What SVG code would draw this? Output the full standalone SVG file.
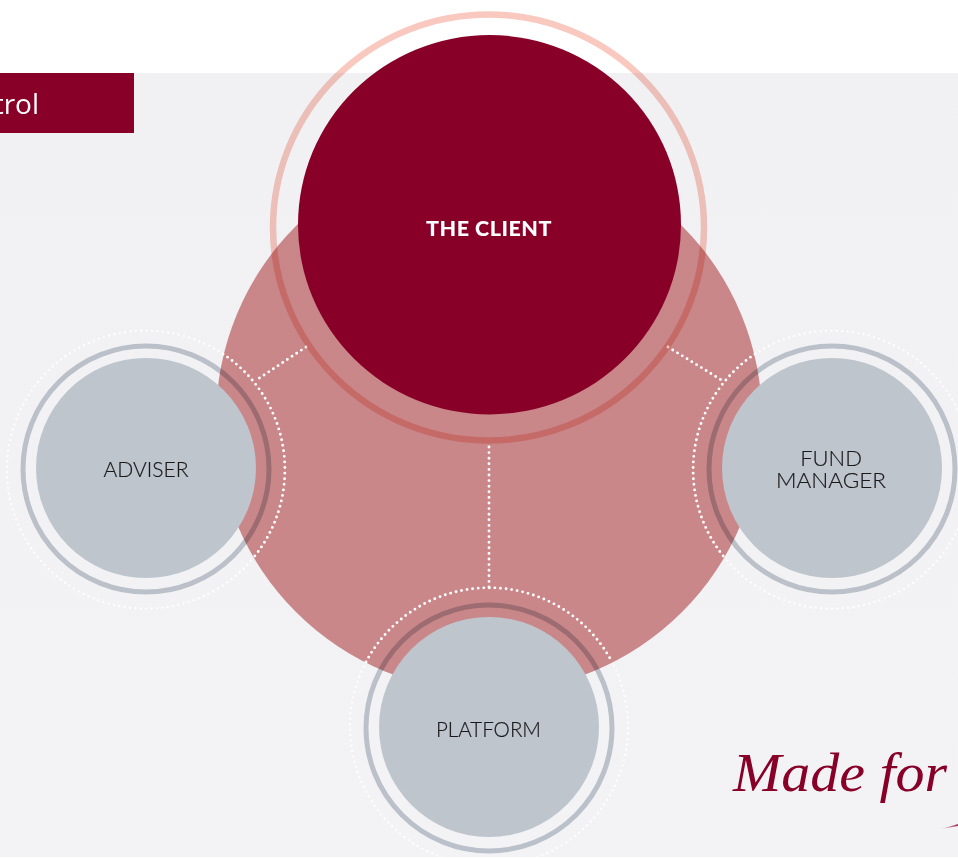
<svg xmlns="http://www.w3.org/2000/svg" width="958" height="859" viewBox="0 0 958 859">
<style>
.lab{font-family:"Lato","Liberation Sans",sans-serif;font-weight:300;font-size:22px;fill:#1a191b;stroke:#1a191b;stroke-width:.2;text-anchor:middle}
.disk{fill:#bec5cd}
.ring{fill:none;stroke:#c5cbd2;stroke-width:5;mix-blend-mode:multiply}
.dots{fill:none;stroke:#fff;stroke-width:2.9;stroke-linecap:round;stroke-dasharray:0 5.6}
.faint{stroke-width:2.4;stroke-dasharray:0 5.4;opacity:.85}
</style>
<defs>
<linearGradient id="bg" x1="0" y1="0" x2="0" y2="1"><stop offset="0" stop-color="#f1f1f4"/><stop offset="1" stop-color="#f3f3f6"/></linearGradient>
<linearGradient id="sl" x1="0" y1="0" x2="1" y2="0"><stop offset="0" stop-color="#880028" stop-opacity=".1"/><stop offset="1" stop-color="#880028" stop-opacity=".8"/></linearGradient>
</defs>
<rect width="958" height="859" fill="#fff"/>
<rect y="73" width="958" height="784" fill="url(#bg)"/>
<g id="tab"><rect y="73" width="134" height="60" fill="#880028"/>
<text x="39" y="114" text-anchor="end" font-family="Open Sans,sans-serif" font-size="28" fill="#fff">trol</text></g>
<circle id="hub" cx="489" cy="419" r="273" fill="#a52426" fill-opacity=".52"/>
<g id="connectors">
<path class="dots" d="M306 347L255 381M668 347L723 381M489 447V590"/>
<path class="dots" d="M223 354A139 139 0 0 1 254 557"/>
<path class="dots" d="M755 354A139 139 0 0 0 724 557"/>
<path class="dots" d="M366 662A139 139 0 0 1 612 662"/>
<path class="dots faint" d="M223 354A139 139 0 1 0 254 557"/>
<path class="dots faint" d="M755 354A139 139 0 1 1 724 557"/>
<path class="dots faint" d="M366 662A139 139 0 1 0 612 662"/>
</g>
<g id="client">
<ellipse cx="488.5" cy="227.5" rx="215.5" ry="213" fill="none" stroke="#f9c9c0" stroke-width="6.5" style="mix-blend-mode:multiply"/>
<ellipse cx="489.5" cy="224.7" rx="191.5" ry="189.7" fill="#880028"/>
<text x="489" y="236" text-anchor="middle" font-family="Lato,sans-serif" font-weight="900" font-size="21.5" letter-spacing=".5" fill="#fff">THE CLIENT</text>
</g>
<g id="adviser"><circle class="ring" cx="146" cy="469" r="123"/><circle class="disk" cx="146" cy="468" r="110"/><text class="lab" x="146" y="477" textLength="85" lengthAdjust="spacingAndGlyphs">ADVISER</text></g>
<g id="fund-manager"><circle class="ring" cx="832" cy="469" r="123"/><circle class="disk" cx="832" cy="468" r="110"/><text class="lab"><tspan x="831" y="466">FUND</tspan><tspan x="831" y="488" textLength="110" lengthAdjust="spacingAndGlyphs">MANAGER</tspan></text></g>
<g id="platform"><circle class="ring" cx="489" cy="728" r="123"/><circle class="disk" cx="489" cy="727" r="110"/><text class="lab" x="488.5" y="737" textLength="105" lengthAdjust="spacingAndGlyphs">PLATFORM</text></g>
<text x="733" y="791" font-family="Liberation Serif,serif" font-style="italic" font-size="54" fill="#880028" textLength="214" lengthAdjust="spacingAndGlyphs">Made for</text>
<polygon points="941,829 958,824 958,826" fill="url(#sl)"/>
</svg>
